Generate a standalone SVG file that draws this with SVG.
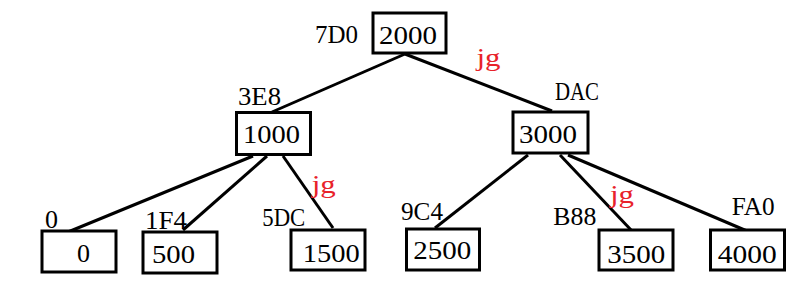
<svg xmlns="http://www.w3.org/2000/svg" width="809" height="301" viewBox="0 0 809 301">
  <style>
    .box { fill: #ffffff; stroke: #000000; stroke-width: 3; }
    .edge { stroke: #000000; stroke-width: 3; fill: none; }
    text { font-family: "Liberation Serif", "Times New Roman", serif; font-size: 26px; fill: #000000; }
    .tag { fill: #e8222a; }
  </style>
  <rect width="809" height="301" fill="#ffffff"/>

  <!-- tree edges -->
  <g id="connectors">
    <line class="edge" x1="405" y1="54" x2="272" y2="112"/>
    <line class="edge" x1="405" y1="54" x2="552" y2="111"/>
    <line class="edge" x1="253" y1="156" x2="68" y2="232"/>
    <line class="edge" x1="267" y1="156" x2="183" y2="230"/>
    <line class="edge" x1="283" y1="156" x2="333" y2="228"/>
    <line class="edge" x1="528" y1="155" x2="435" y2="228"/>
    <line class="edge" x1="560" y1="155" x2="632" y2="231"/>
    <line class="edge" x1="568" y1="155" x2="747" y2="231"/>
  </g>

  <!-- edge tags -->
  <g id="tags">
    <text class="tag" x="476.5" y="65.7" textLength="24" lengthAdjust="spacingAndGlyphs">jg</text>
    <text class="tag" x="311.7" y="192.5" textLength="24" lengthAdjust="spacingAndGlyphs">jg</text>
    <text class="tag" x="610" y="203.3" textLength="24" lengthAdjust="spacingAndGlyphs">jg</text>
  </g>

  <g id="node-2000">
    <rect class="box" x="373" y="13" width="73" height="40"/>
    <text x="379" y="44" textLength="58" lengthAdjust="spacingAndGlyphs">2000</text>
    <text x="315" y="42.5" textLength="43" lengthAdjust="spacingAndGlyphs">7D0</text>
  </g>

  <g id="node-1000">
    <rect class="box" x="236.5" y="112.5" width="74" height="42"/>
    <text x="243" y="143.3" textLength="57" lengthAdjust="spacingAndGlyphs">1000</text>
    <text x="238" y="105" textLength="43" lengthAdjust="spacingAndGlyphs">3E8</text>
  </g>

  <g id="node-3000">
    <rect class="box" x="513" y="112" width="75" height="41"/>
    <text x="519" y="143.3" textLength="58" lengthAdjust="spacingAndGlyphs">3000</text>
    <text x="555" y="100" textLength="44" lengthAdjust="spacingAndGlyphs">DAC</text>
  </g>

  <g id="node-0">
    <rect class="box" x="42" y="231" width="74" height="41"/>
    <text x="77" y="261.7" textLength="13" lengthAdjust="spacingAndGlyphs">0</text>
    <text x="45" y="228" textLength="13" lengthAdjust="spacingAndGlyphs">0</text>
  </g>

  <g id="node-500">
    <rect class="box" x="143" y="232" width="74" height="41"/>
    <text x="152" y="262.7" textLength="43" lengthAdjust="spacingAndGlyphs">500</text>
    <text x="145" y="229" textLength="42" lengthAdjust="spacingAndGlyphs">1F4</text>
  </g>

  <g id="node-1500">
    <rect class="box" x="291" y="230" width="74" height="40"/>
    <text x="302.7" y="261.7" textLength="57" lengthAdjust="spacingAndGlyphs">1500</text>
    <text x="262.3" y="226" textLength="43" lengthAdjust="spacingAndGlyphs">5DC</text>
  </g>

  <g id="node-2500">
    <rect class="box" x="406.5" y="229" width="73" height="41"/>
    <text x="413.3" y="259" textLength="58" lengthAdjust="spacingAndGlyphs">2500</text>
    <text x="401" y="220" textLength="42" lengthAdjust="spacingAndGlyphs">9C4</text>
  </g>

  <g id="node-3500">
    <rect class="box" x="599" y="230" width="74" height="40"/>
    <text x="607.3" y="263.3" textLength="58" lengthAdjust="spacingAndGlyphs">3500</text>
    <text x="553.3" y="225" textLength="43" lengthAdjust="spacingAndGlyphs">B88</text>
  </g>

  <g id="node-4000">
    <rect class="box" x="710.5" y="230" width="74" height="40"/>
    <text x="717.7" y="262.7" textLength="59" lengthAdjust="spacingAndGlyphs">4000</text>
    <text x="731.7" y="215" textLength="43" lengthAdjust="spacingAndGlyphs">FA0</text>
  </g>
</svg>
